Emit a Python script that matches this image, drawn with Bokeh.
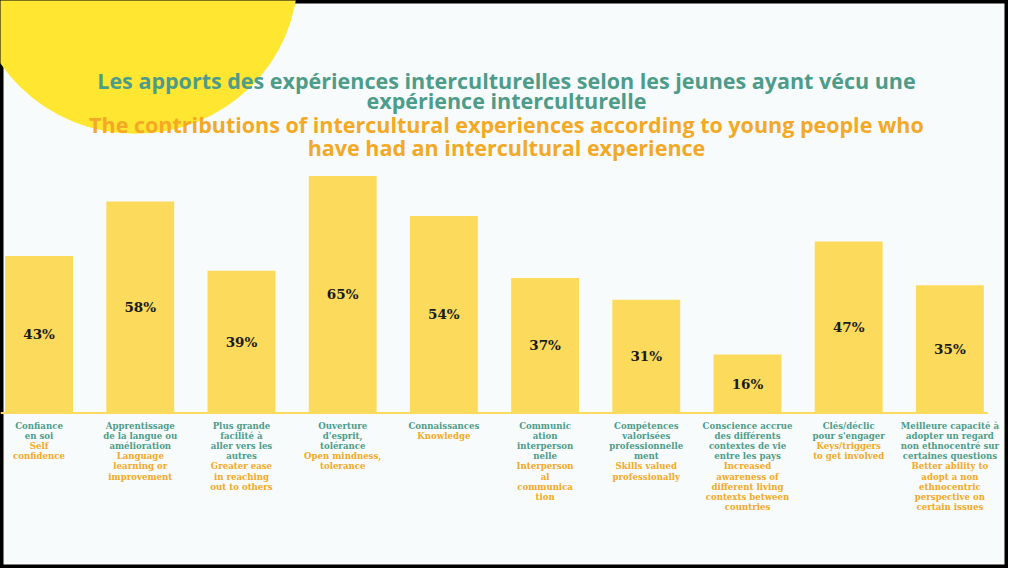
from bokeh.plotting import figure
from bokeh.models import Range1d, ColumnDataSource
from bokeh.core.properties import value
from bokeh.embed import file_html
from bokeh.resources import INLINE

# ---------------- data ----------------
title_fr = ["Les apports des expériences interculturelles selon les jeunes ayant vécu une",
            "expérience interculturelle"]
title_en = ["The contributions of intercultural experiences according to young people who",
            "have had an intercultural experience"]

labels_fr = [
    "Confiance\nen soi",
    "Apprentissage\nde la langue ou\namélioration",
    "Plus grande\nfacilité à\naller vers les\nautres",
    "Ouverture\nd'esprit,\ntolérance",
    "Connaissances",
    "Communic\nation\ninterperson\nnelle",
    "Compétences\nvalorisées\nprofessionnelle\nment",
    "Conscience accrue\ndes différents\ncontextes de vie\nentre les pays",
    "Clés/déclic\npour s'engager",
    "Meilleure capacité à\nadopter un regard\nnon ethnocentré sur\ncertaines questions",
]
labels_en = [
    "Self\nconfidence",
    "Language\nlearning or\nimprovement",
    "Greater ease\nin reaching\nout to others",
    "Open mindness,\ntolerance",
    "Knowledge",
    "Interperson\nal\ncommunica\ntion",
    "Skills valued\nprofessionally",
    "Increased\nawareness of\ndifferent living\ncontexts between\ncountries",
    "Keys/triggers\nto get involved",
    "Better ability to\nadopt a non\nethnocentric\nperspective on\ncertain issues",
]
values = [43, 58, 39, 65, 54, 37, 31, 16, 47, 35]

# ---------------- layout ----------------
W, H = 1008, 568
X0, X1 = -0.381, 9.579
Y0, Y1 = -42.68, 113.1
SX, SY = W / 1024, H / 584
PX_PER_X = W / (X1 - X0)
PX_PER_Y = H / (Y1 - Y0)

def px2x(cx):
    return X0 + cx / PX_PER_X

def py2y(cy):
    return Y1 - cy / PX_PER_Y

BG = "#f7fbfb"
BAR = "#fcdb5c"
BLOB = "#fee631"
TEAL = "#4d9c8a"
ORANGE = "#f3a925"

p = figure(width=W, height=H, x_range=Range1d(X0, X1), y_range=Range1d(Y0, Y1),
           output_backend="svg", toolbar_location=None, min_border=0)
p.axis.visible = False
p.grid.visible = False
p.background_fill_color = BG
p.border_fill_color = BG
p.outline_line_color = "black"
p.outline_line_width = 6

# decorative blob
p.ellipse(x=[px2x(137 * SX)], y=[py2y(-26 * SY)],
          width=2 * 165 * SX / PX_PER_X, height=2 * 163 * SY / PX_PER_Y,
          fill_color=BLOB, line_color=None)

idx = list(range(len(values)))
src = ColumnDataSource(dict(x=idx, top=values, mid=[v / 2 for v in values],
                            lab=[f"{v}%" for v in values]))

# baseline
p.segment(x0=[px2x(0)], y0=[0], x1=[px2x(1003 * SX)], y1=[0], line_color=BAR, line_width=2)

p.vbar(x="x", top="top", bottom=0, width=0.671, source=src, fill_color=BAR, line_color=None)

p.text(x="x", y="mid", text="lab", source=src, text_align="center", text_baseline="middle",
       text_font=value("DejaVu Serif"), text_font_style="bold", text_font_size="13.5px",
       text_color="#1a1a1a")

# category labels, one row per line
PITCH = 10.5 * SY
first_y = py2y(437 * SY)
rx, ry, rt, rc = [], [], [], []
for i in idx:
    lines = [(s, TEAL) for s in labels_fr[i].split("\n")] + \
            [(s, ORANGE) for s in labels_en[i].split("\n")]
    for k, (s, c) in enumerate(lines):
        rx.append(i)
        ry.append(first_y - k * PITCH / PX_PER_Y)
        rt.append(s)
        rc.append(c)
p.text(x=rx, y=ry, text=rt, text_color=rc, text_align="center", text_baseline="middle",
       text_font=value("DejaVu Serif"), text_font_style="bold", text_font_size="8.6px")

# titles
tx = px2x(514 * SX)
title_rows = [(title_fr[0], 82, TEAL), (title_fr[1], 103, TEAL),
              (title_en[0], 128, ORANGE), (title_en[1], 151, ORANGE)]
p.text(x=[tx] * 4, y=[py2y(r[1] * SY) for r in title_rows], text=[r[0] for r in title_rows],
       text_color=[r[2] for r in title_rows], text_align="center", text_baseline="middle",
       text_font=value("Open Sans"), text_font_style="bold", text_font_size="21.5px")

open("out.html", "w").write(file_html(p, INLINE))
